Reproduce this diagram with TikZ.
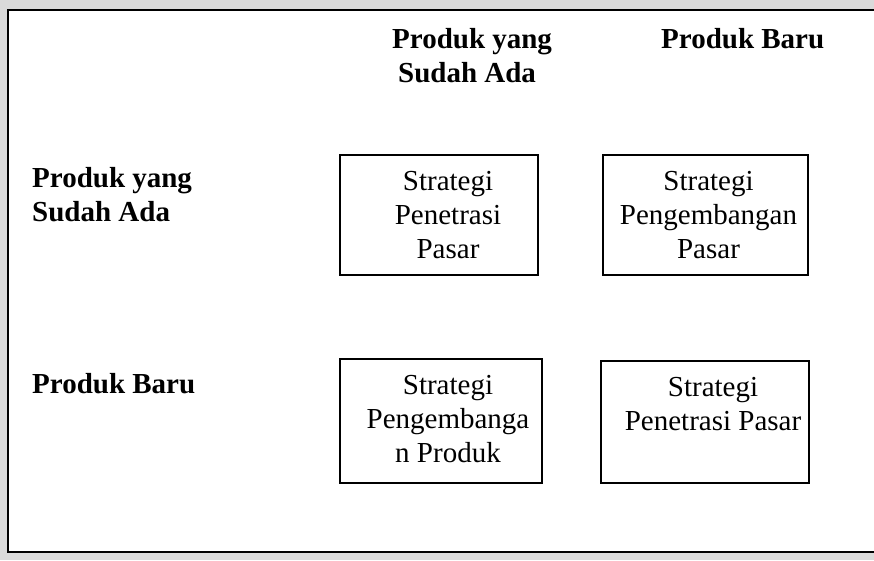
\documentclass[tikz,border=0pt]{standalone}
\usepackage{fontspec}
\setmainfont{Liberation Serif}
\usetikzlibrary{calc}
\definecolor{bgcol}{RGB}{218,218,218}
\newcommand\celltext[1]{\begin{tabular}[t]{@{}c@{}}#1\end{tabular}}
\newcommand\headtext[1]{\begin{tabular}[t]{@{}l@{}}#1\end{tabular}}
\begin{document}
\begin{tikzpicture}[x=1pt,y=-1pt,
  cell/.style={draw=black,line width=1.6pt,inner sep=0pt},
  celltxt/.style={anchor=base,inner sep=0pt,font=\fontsize{29}{34}\selectfont},
  head/.style={anchor=base west,inner sep=0pt,font=\fontsize{29}{34}\selectfont\bfseries}]
\useasboundingbox (0,0) rectangle (874,560);
\clip (0,0) rectangle (874,560);
\fill[bgcol] (0,0) rectangle (874,560);
\draw[line width=2pt,fill=white] (8,10) rectangle (900,552);
% column headers
\node[head] (h1) at (392,48) {\headtext{Produk yang\\\hspace*{6pt}Sudah Ada}};
\node[head] (h2) at (661,48) {Produk Baru};
% row headers
\node[head] (r1) at (32,187) {\headtext{Produk yang\\Sudah Ada}};
\node[head] (r2) at (32,393) {Produk Baru};
% cells
\node[cell,minimum width=198pt,minimum height=120pt] (b1) at (439,215) {};
\node[cell,minimum width=205pt,minimum height=120pt] (b2) at (705.5,215) {};
\node[cell,minimum width=202pt,minimum height=124pt] (b3) at (441,421) {};
\node[cell,minimum width=208pt,minimum height=122pt] (b4) at (705,422) {};
\node[celltxt] (t1) at ($(b1.north)+(9,36)$) {\celltext{Strategi\\Penetrasi\\Pasar}};
\node[celltxt] (t2) at ($(b2.north)+(3,36)$) {\celltext{Strategi\\Pengembangan\\Pasar}};
\node[celltxt] (t3) at ($(b3.north)+(7,36)$) {\celltext{Strategi\\Pengembanga\\n Produk}};
\node[celltxt] (t4) at ($(b4.north)+(8,36)$) {\celltext{Strategi\\Penetrasi Pasar}};
\end{tikzpicture}
\end{document}
